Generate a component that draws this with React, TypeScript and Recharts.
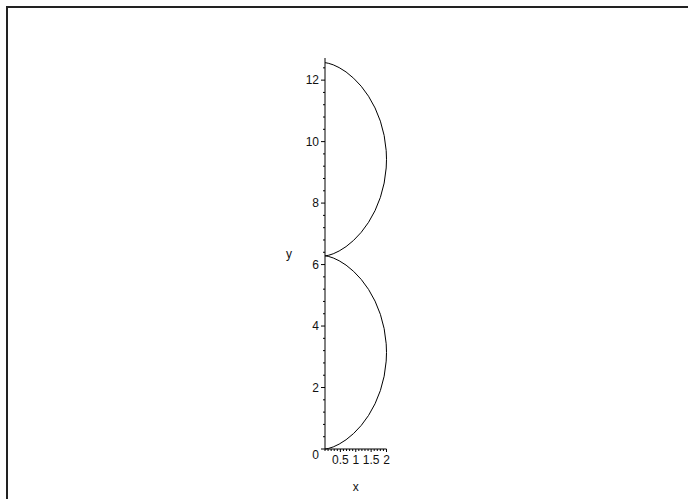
import React from 'react';
import { LineChart, Line, XAxis, YAxis, Label } from 'recharts';

// Curve samples (x, y)
const xValues = [
  0, 0.031, 0.122, 0.268, 0.46, 0.685, 0.929, 1.178, 1.416, 1.628, 1.801, 1.924, 1.99, 2,
  1.99, 1.924, 1.801, 1.628, 1.416, 1.178, 0.929, 0.685, 0.46, 0.268, 0.122, 0.031, 0,
  0.031, 0.122, 0.268, 0.46, 0.685, 0.929, 1.178, 1.416, 1.628, 1.801, 1.924, 1.99, 2,
  1.99, 1.924, 1.801, 1.628, 1.416, 1.178, 0.929, 0.685, 0.46, 0.268, 0.122, 0.031, 0,
];
const yValues = [
  0, 0.003, 0.021, 0.068, 0.159, 0.301, 0.503, 0.766, 1.091, 1.472, 1.902, 2.368, 2.859, 3.142,
  3.424, 3.915, 4.381, 4.811, 5.192, 5.517, 5.78, 5.982, 6.124, 6.215, 6.262, 6.281, 6.283,
  6.286, 6.304, 6.351, 6.442, 6.584, 6.786, 7.049, 7.374, 7.755, 8.185, 8.651, 9.142, 9.425,
  9.708, 10.199, 10.665, 11.095, 11.476, 11.801, 12.063, 12.266, 12.407, 12.498, 12.545, 12.564, 12.566,
];

const xTicks = [0, 0.1, 0.2, 0.3, 0.4, 0.5, 0.6, 0.7, 0.8, 0.9, 1, 1.1, 1.2, 1.3, 1.4, 1.5, 1.6, 1.7, 1.8, 1.9, 2];
const xMajorTicks = [0.5, 1, 1.5, 2];
const xTickLabels = ['0.5', '1', '1.5', '2'];

const yTicks = [
  0, 0.4, 0.8, 1.2, 1.6, 2, 2.4, 2.8, 3.2, 3.6, 4, 4.4, 4.8, 5.2, 5.6, 6, 6.4, 6.8, 7.2, 7.6,
  8, 8.4, 8.8, 9.2, 9.6, 10, 10.4, 10.8, 11.2, 11.6, 12, 12.4,
];
const yMajorTicks = [0, 2, 4, 6, 8, 10, 12];
const yTickLabels = ['0', '2', '4', '6', '8', '10', '12'];

const data = xValues.map((x, i) => ({ x, y: yValues[i] }));

const FONT = '"Liberation Sans", Arial, sans-serif';

const XTick = (props: any) => {
  const { x, y, payload } = props;
  const idx = xMajorTicks.findIndex((v) => Math.abs(v - payload.value) < 1e-6);
  const major = idx >= 0;
  return (
    <g>
      <line x1={x} y1={y} x2={x} y2={y + (major ? 3 : 2)} stroke="#000" strokeWidth={1} />
      {major && (
        <text x={x} y={y + 15} textAnchor="middle" fontSize={12} fontFamily={FONT} fill="#111">
          {xTickLabels[idx]}
        </text>
      )}
    </g>
  );
};

const YTick = (props: any) => {
  const { x, y, payload } = props;
  const idx = yMajorTicks.findIndex((v) => Math.abs(v - payload.value) < 1e-6);
  const major = idx >= 0;
  const isZero = major && payload.value === 0;
  return (
    <g>
      <line x1={x} y1={y} x2={x - (major ? 4 : 2)} y2={y} stroke="#000" strokeWidth={1} />
      {major && (
        <text
          x={x - (isZero ? 6 : 6)}
          y={y + (isZero ? 10 : 4)}
          textAnchor="end"
          fontSize={12}
          fontFamily={FONT}
          fill="#111"
        >
          {yTickLabels[idx]}
        </text>
      )}
    </g>
  );
};

export default function App() {
  return (
    <div
      style={{
        position: 'absolute',
        left: 6,
        top: 6,
        width: 680,
        height: 491,
        borderLeft: '2px solid #222',
        borderTop: '2px solid #222',
        background: '#fff',
      }}
    >
      <LineChart
        width={680}
        height={491}
        data={data}
        margin={{ top: 50, right: 301.5, bottom: 20, left: 277 }}
      >
        <XAxis
          type="number"
          dataKey="x"
          domain={[0, 2]}
          ticks={xTicks}
          interval={0}
          tickSize={0}
          tickMargin={0}
          tickLine={false}
          tick={<XTick />}
          axisLine={{ stroke: '#000', strokeWidth: 1 }}
          height={30}
          allowDecimals
        >
          <Label value="x" position="bottom" offset={3} style={{ fontSize: 12, fontFamily: FONT, fill: '#111' }} />
        </XAxis>
        <YAxis
          type="number"
          domain={[0, 12.72]}
          ticks={yTicks}
          interval={0}
          tickSize={0}
          tickMargin={0}
          tickLine={false}
          tick={<YTick />}
          axisLine={{ stroke: '#000', strokeWidth: 1 }}
          width={40}
          allowDecimals
        >
          <Label value="y" position="insideLeft" offset={1} style={{ fontSize: 12, fontFamily: FONT, fill: '#111' }} />
        </YAxis>
        <Line
          type="linear"
          dataKey="y"
          stroke="#000"
          strokeWidth={1}
          dot={false}
          isAnimationActive={false}
        />
      </LineChart>
    </div>
  );
}
